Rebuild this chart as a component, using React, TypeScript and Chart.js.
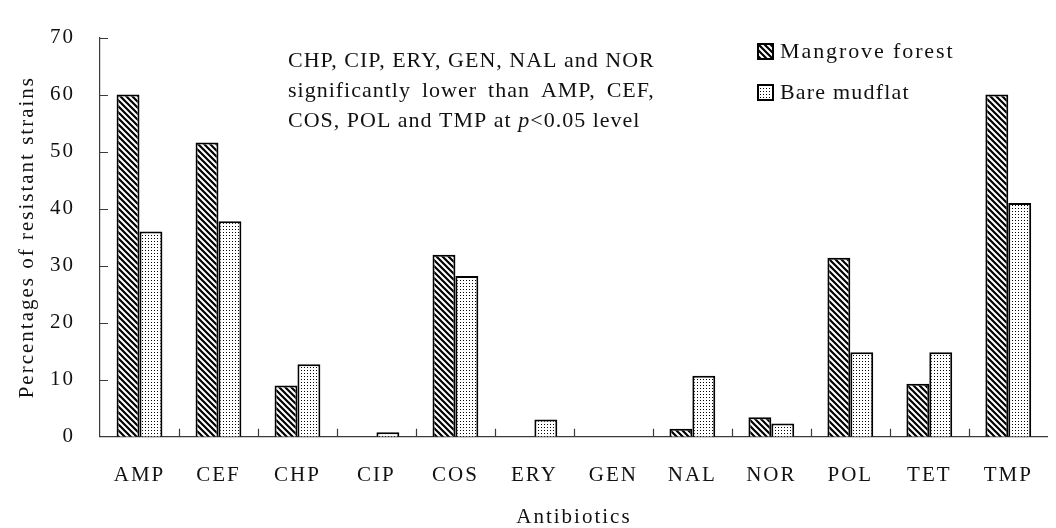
import { useEffect, useRef } from 'react';
import { Chart, registerables } from 'chart.js';

Chart.register(...registerables);

const categories = ['AMP', 'CEF', 'CHP', 'CIP', 'COS', 'ERY', 'GEN', 'NAL', 'NOR', 'POL', 'TET', 'TMP'];
const mangroveForest = [60, 51.6, 9.0, 0, 31.9, 0, 0, 1.4, 3.4, 31.4, 9.3, 60];
const bareMudflat = [36.0, 37.8, 12.7, 0.8, 28.2, 3.0, 0, 10.7, 2.3, 14.8, 14.8, 41.0];
const seriesNames = ['Mangrove forest', 'Bare mudflat'];
const yTickValues = [0, 10, 20, 30, 40, 50, 60, 70];
const xTitle = 'Antibiotics';
const yTitle = 'Percentages of resistant strains';
const noteLine1 = 'CHP, CIP, ERY, GEN, NAL and NOR';
const noteLine2Words = ['significantly', 'lower', 'than', 'AMP,', 'CEF,'];
const noteLine3a = 'COS, POL and TMP at ';
const noteLine3p = 'p';
const noteLine3b = '<0.05 level';

const FONT = '"Liberation Serif", "Times New Roman", serif';
const INK = '#111';
const AXIS = '#3a3a3a';

function makeStripe(ctx: CanvasRenderingContext2D) {
  const c = document.createElement('canvas');
  c.width = 6;
  c.height = 6;
  const g = c.getContext('2d')!;
  g.fillStyle = '#fff';
  g.fillRect(0, 0, 6, 6);
  g.strokeStyle = '#000';
  g.lineWidth = 2.2;
  g.beginPath();
  for (const o of [-6, 0, 6]) {
    g.moveTo(o - 1, -1);
    g.lineTo(o + 7, 7);
  }
  g.stroke();
  return ctx.createPattern(c, 'repeat')!;
}

function makeDots(ctx: CanvasRenderingContext2D) {
  const c = document.createElement('canvas');
  c.width = 3;
  c.height = 3;
  const g = c.getContext('2d')!;
  g.fillStyle = '#fff';
  g.fillRect(0, 0, 3, 3);
  g.fillStyle = '#000';
  g.fillRect(1, 1, 1, 1);
  return ctx.createPattern(c, 'repeat')!;
}

export default function App() {
  const ref = useRef<HTMLCanvasElement>(null);

  useEffect(() => {
    const canvas = ref.current!;
    const ctx0 = canvas.getContext('2d')!;
    const stripe = makeStripe(ctx0);
    const dots = makeDots(ctx0);
    const fills = [stripe, dots];

    const decor = {
      id: 'decor',
      beforeDraw(chart: any) {
        chart.ctx.letterSpacing = '2px';
      },
      beforeDatasetsDraw(chart: any) {
        chart.ctx.letterSpacing = '0px';
      },
      afterDatasetsDraw(chart: any) {
        const ctx = chart.ctx as CanvasRenderingContext2D;
        const area = chart.chartArea;
        const xs = chart.scales.x;
        const ys = chart.scales.y;
        ctx.save();
        // inside tick marks
        ctx.strokeStyle = AXIS;
        ctx.lineWidth = 1.2;
        ctx.beginPath();
        for (const v of yTickValues) {
          if (v === 0) continue;
          const py = Math.round(ys.getPixelForValue(v)) + 0.5;
          ctx.moveTo(area.left, py);
          ctx.lineTo(area.left + 8, py);
        }
        for (let i = 0; i < categories.length - 1; i++) {
          const px = Math.round((xs.getPixelForValue(i) + xs.getPixelForValue(i + 1)) / 2) + 0.5;
          ctx.moveTo(px, area.bottom);
          ctx.lineTo(px, area.bottom - 8);
        }
        ctx.stroke();

        // legend
        const legendRows = [51, 92];
        ctx.font = `22px ${FONT}`;
        ctx.textBaseline = 'alphabetic';
        ctx.textAlign = 'left';
        seriesNames.forEach((name, i) => {
          const cy = legendRows[i];
          ctx.fillStyle = fills[i];
          ctx.fillRect(758, cy - 7, 15, 15);
          ctx.strokeStyle = '#000';
          ctx.lineWidth = 2;
          ctx.strokeRect(758, cy - 7, 15, 15);
          ctx.fillStyle = INK;
          ctx.letterSpacing = i === 0 ? '1.9px' : '1.2px';
          ctx.fillText(name, 780, cy + 7);
        });

        // note text
        const ls = 1.0;
        ctx.letterSpacing = `${ls}px`;
        ctx.font = `22px ${FONT}`;
        ctx.fillStyle = INK;
        const nx = 288;
        ctx.fillText(noteLine1, nx, 67);
        const w1 = ctx.measureText(noteLine1).width - ls;
        const widths = noteLine2Words.map((w) => ctx.measureText(w).width - ls);
        const total = widths.reduce((a, b) => a + b, 0);
        const gap = (w1 - total) / (noteLine2Words.length - 1);
        let cx = nx;
        noteLine2Words.forEach((w, i) => {
          ctx.fillText(w, cx, 97);
          cx += widths[i] + gap;
        });
        let lx = nx;
        ctx.fillText(noteLine3a, lx, 127);
        lx += ctx.measureText(noteLine3a).width;
        ctx.font = `italic 22px ${FONT}`;
        ctx.fillText(noteLine3p, lx, 127);
        lx += ctx.measureText(noteLine3p).width;
        ctx.font = `22px ${FONT}`;
        ctx.fillText(noteLine3b, lx, 127);
        ctx.restore();
      },
    };

    const chart = new Chart(canvas, {
      type: 'bar',
      data: {
        labels: categories,
        datasets: [
          {
            label: seriesNames[0],
            data: mangroveForest,
            backgroundColor: stripe as any,
            borderColor: '#000',
            borderWidth: 2,
            categoryPercentage: 0.58,
            barPercentage: 1.0,
          },
          {
            label: seriesNames[1],
            data: bareMudflat,
            backgroundColor: dots as any,
            borderColor: '#000',
            borderWidth: 2,
            categoryPercentage: 0.58,
            barPercentage: 1.0,
          },
        ],
      },
      options: {
        responsive: false,
        animation: false,
        devicePixelRatio: 1,
        layout: { padding: { top: 27.5, right: 3, bottom: 0, left: 0 } },
        plugins: {
          legend: { display: false },
          tooltip: { enabled: false },
        },
        scales: {
          x: {
            grid: { display: false, drawTicks: false },
            border: { display: true, color: AXIS, width: 1.2 },
            ticks: {
              color: INK,
              font: { family: FONT, size: 21 },
              padding: 26,
              autoSkip: false,
              maxRotation: 0,
            },
            title: {
              display: true,
              text: xTitle,
              color: INK,
              font: { family: FONT, size: 21, lineHeight: 1.0 },
              padding: { top: 0, bottom: 0 },
            },
            afterFit: (s: any) => {
              s.height = 91.3;
            },
          },
          y: {
            min: 0,
            max: 70,
            grid: { display: false, drawTicks: false },
            border: { display: true, color: AXIS, width: 1.2 },
            ticks: {
              stepSize: 10,
              color: INK,
              font: { family: FONT, size: 21 },
              padding: 25,
            },
            title: {
              display: true,
              text: yTitle,
              color: INK,
              font: { family: FONT, size: 21 },
              padding: { top: 14.5, bottom: 0 },
            },
            afterFit: (s: any) => {
              s.width = 100;
            },
          },
        },
      },
      plugins: [decor],
    });

    return () => chart.destroy();
  }, []);

  return (
    <div style={{ position: 'fixed', left: 0, top: 0, width: 1056, height: 528, background: '#fff' }}>
      <canvas ref={ref} width={1056} height={528} />
    </div>
  );
}
